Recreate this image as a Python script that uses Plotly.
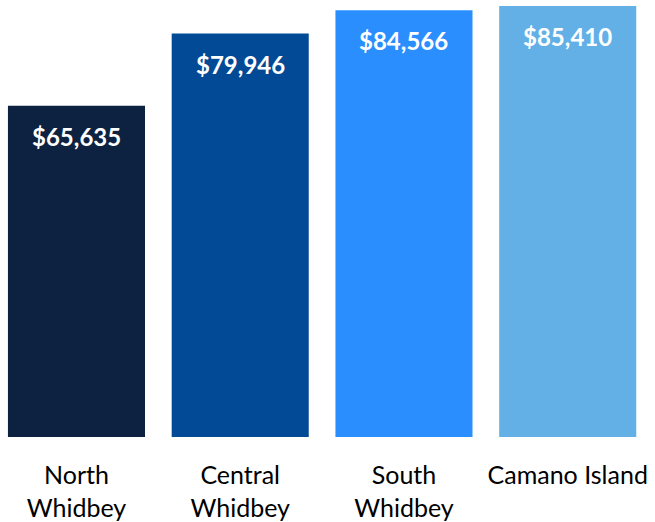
import plotly.graph_objects as go

REGIONS = ["North<br>Whidbey", "Central<br>Whidbey", "South<br>Whidbey", "Camano Island"]
INCOME = [65635, 79946, 84566, 85410]
COLORS = ["#0D2240", "#034A96", "#2B8EFF", "#63B0E7"]

FONT = "Lato"

fig = go.Figure()
fig.add_trace(
    go.Bar(
        x=list(range(len(REGIONS))),
        y=INCOME,
        width=0.837,
        marker=dict(color=COLORS, line=dict(width=0)),
        hoverinfo="skip",
    )
)

# value labels inside the top of each bar
for i, v in enumerate(INCOME):
    fig.add_annotation(
        x=i, y=v, text=f"<b>${v:,}</b>", showarrow=False,
        yanchor="top", yshift=-14,
        font=dict(family=FONT, size=24, color="white"),
    )

fig.update_xaxes(
    tickmode="array", tickvals=list(range(len(REGIONS))), ticktext=REGIONS,
    range=[-0.467, 3.533], showgrid=False, zeroline=False, showline=False,
    ticks="", ticklabelstandoff=21,
    tickfont=dict(family=FONT, size=25, color="#000000"),
)
fig.update_yaxes(range=[0, 86600], visible=False, showgrid=False, zeroline=False)
fig.update_layout(
    width=655, height=522,
    margin=dict(l=0, r=0, t=0, b=82),
    plot_bgcolor="white", paper_bgcolor="white",
    showlegend=False,
)
# page has a default body margin; drop it so the figure fills the window
fig.write_html(
    "out.html",
    config={"displayModeBar": False},
    post_script="document.body.style.margin='0';",
)
